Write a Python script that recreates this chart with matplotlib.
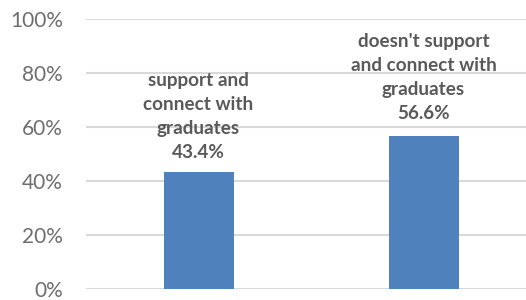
import matplotlib.pyplot as plt
from matplotlib.ticker import PercentFormatter

categories = ["support and\nconnect with\ngraduates", "doesn't support\nand connect with\ngraduates"]
values = [43.4, 56.6]
yticks = [0, 20, 40, 60, 80, 100]

plt.rcParams['font.family'] = ['Lato', 'DejaVu Sans']

fig = plt.figure(figsize=(5.26, 3.0), dpi=100)
ax = fig.add_axes([86 / 526, 11 / 300, 440 / 526, 270 / 300])

x = list(range(len(categories)))
ax.bar(x, values, width=70 / 225, color='#4f81bd', zorder=3)

ax.set_xlim(-0.5, 1.5 - 10 / 225)
ax.set_ylim(0, 100)
ax.set_yticks(yticks)
ax.yaxis.set_major_formatter(PercentFormatter(decimals=0))
ax.tick_params(axis='y', length=0, pad=16.5, labelsize=15, labelcolor='#6e6e6e')
ax.set_xticks([])
ax.grid(axis='y', color='#d9d9d9', linewidth=1.5, zorder=0)
for s in ax.spines.values():
    s.set_visible(False)

# label offsets (points) above each bar
offsets = [8, 10.5]
for xi, v, cat, off in zip(x, values, categories, offsets):
    ax.annotate(f"{cat}\n{v}%", (xi, v), xytext=(0, off), textcoords='offset points',
                ha='center', va='bottom', fontsize=13.6, fontweight='bold',
                color='#595959', linespacing=1.5)

fig.savefig('out.png', dpi=100)
